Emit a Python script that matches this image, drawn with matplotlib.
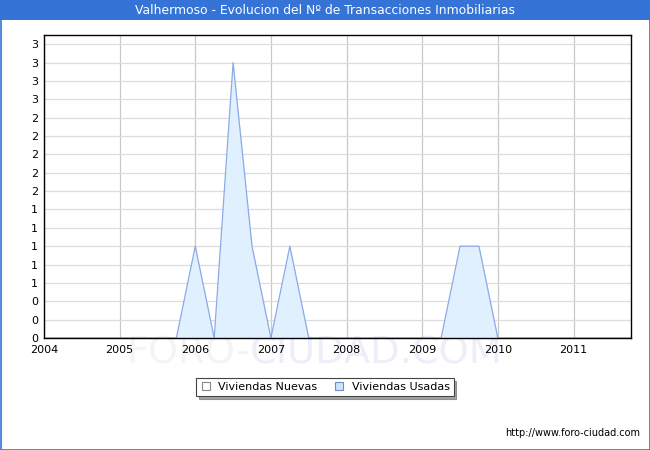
import numpy as np
import matplotlib
matplotlib.use("Agg")
import matplotlib.pyplot as plt
from matplotlib.lines import Line2D
from matplotlib.patches import Rectangle
from matplotlib.ticker import FuncFormatter

title = "Valhermoso - Evolucion del Nº de Transacciones Inmobiliarias"
years = [2004, 2005, 2006, 2007, 2008, 2009, 2010, 2011]
# quarterly values, 2004 Q1 .. 2011 Q4
nuevas = [0, 0, 0, 0,  0, 0, 0, 0,  0, 0, 0, 0,  0, 0, 0, 0,
          0, 0, 0, 0,  0, 0, 0, 0,  0, 0, 0, 0,  0, 0, 0, 0]
usadas = [0, 0, 0, 0,  0, 0, 0, 0,  1, 0, 3, 1,  0, 1, 0, 0,
          0, 0, 0, 0,  0, 0, 1, 1,  0, 0, 0, 0,  0, 0, 0, 0]
legend_labels = ["Viviendas Nuevas", "Viviendas Usadas"]

plt.rcParams['font.family'] = ['DejaVu Sans']

fig = plt.figure(figsize=(6.5, 4.5), dpi=100)
W, H = 650, 450

# title bar
fig.patches.append(Rectangle((0, 1 - 20 / H), 1, 20 / H, transform=fig.transFigure,
                             facecolor='#3573d6', edgecolor='none', zorder=-2))
fig.patches.append(Rectangle((0.5 / W, 0.5 / H), 1 - 1 / W, 1 - 1 / H, transform=fig.transFigure,
                             facecolor='none', edgecolor='#3573d6', linewidth=1.2, zorder=-2))
fig.text(0.5, 1 - 11 / H, title, color='white', ha='center', va='center', fontsize=8.9)

# watermark
fig.text(250 / W, 1 - 353 / H, "FORO-", color='#f4f4f4', ha='right', va='center',
         fontsize=27.5, zorder=-1)
fig.text(250 / W, 1 - 353 / H, "CIUDAD.COM", color='#eeeefb', ha='left', va='center',
         fontsize=27.5, zorder=-1)

ax = fig.add_axes([44 / W, 1 - 338 / H, (631 - 44) / W, (338 - 35) / H])
ax.set_facecolor('none')

x = 2004 + np.arange(len(usadas)) * 0.25
ax.fill_between(x, 0, usadas, color='#e1f0ff', zorder=2, linewidth=0)
ax.plot(x, usadas, color='#8aaae8', linewidth=0.9, zorder=3)
ax.fill_between(x, 0, nuevas, color='#ffffff', zorder=2, linewidth=0)

ax.set_xlim(2004, 2011.76)
ax.set_ylim(0, 3.3)
ax.set_xticks(years)
ax.set_xticklabels([str(y) for y in years])
ax.set_yticks(np.arange(0, 3.21, 0.2))
ax.yaxis.set_major_formatter(FuncFormatter(lambda v, p: str(int(np.floor(v + 0.5)))))
ax.tick_params(length=0, labelsize=8)
ax.tick_params(axis='x', pad=5)
ax.tick_params(axis='y', pad=9.5)
for lbl in ax.get_yticklabels():
    lbl.set_horizontalalignment('left')

ax.grid(axis='y', color='#dddddd', linewidth=0.9, zorder=1)
ax.grid(axis='x', color='#c8c8c8', linewidth=0.9, zorder=1)
ax.set_axisbelow(True)
for s in ax.spines.values():
    s.set_color('black')
    s.set_linewidth(1.0)
    s.set_zorder(5)

handles = [Line2D([], [], marker='s', linestyle='none', markersize=6,
                  markerfacecolor='white', markeredgecolor='#888888', markeredgewidth=0.8),
           Line2D([], [], marker='s', linestyle='none', markersize=6,
                  markerfacecolor='#cce4ff', markeredgecolor='#6c8ec8', markeredgewidth=0.8)]
leg = fig.legend(handles, legend_labels, loc='center', bbox_to_anchor=(325 / W, 1 - 387 / H),
                 ncol=2, fontsize=8, frameon=True, fancybox=False, shadow=True,
                 handlelength=1.0, handletextpad=0.6, columnspacing=1.5,
                 borderpad=0.35, borderaxespad=0)
leg.get_frame().set_edgecolor('#444444')
leg.get_frame().set_linewidth(0.8)

fig.text(640 / W, 1 - 433 / H, "http://www.foro-ciudad.com", ha='right', va='center', fontsize=7)

fig.savefig("out.png", dpi=100)
